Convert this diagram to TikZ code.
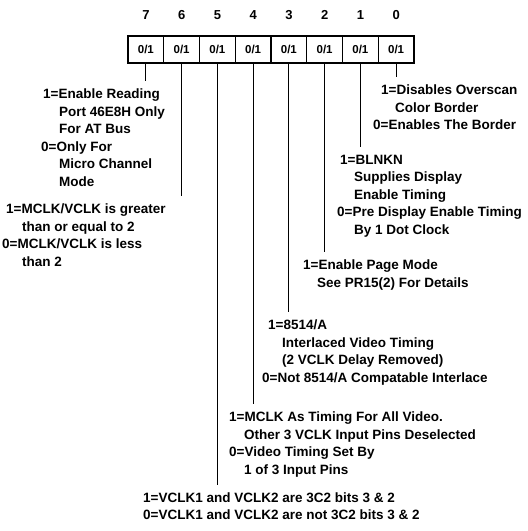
\documentclass[tikz,border=0pt]{standalone}
\usepackage{fontspec}
\setmainfont{Liberation Sans}
\usepackage{tikz}
\usetikzlibrary{
  calc,%
  positioning
}
\tikzset{>=latex}
\tikzset{bitcell/.style={draw, line width=1.2pt, minimum width=35.75pt, minimum height=27pt,
    inner sep=0pt, font=\bfseries\fontsize{11.5}{13}\selectfont}}
\tikzset{bitnum/.style={inner sep=0pt, font=\bfseries\fontsize{13}{15}\selectfont}}
\tikzset{desc/.style={align=left, anchor=north west, inner sep=0pt,
    font=\bfseries\fontsize{13.5}{17.5}\selectfont}}
\tikzset{stub/.style={line width=1pt, shorten >=8pt}}
\newcommand{\indby}[1]{\hspace*{#1pt}}

\begin{document}
\begin{tikzpicture}[x=1pt, y=-1pt]
  \useasboundingbox (0,0) rectangle (528,531);
  % register cells
  \foreach \b [count=\i from 0] in {7,...,0}{
    \node[bitcell] (c\b) at ({128+35.75*(\i+0.5)},49.5) {0/1};
    \node[bitnum, above=16pt of c\b] (n\b) {\b};
  }
  % bit descriptions
  \node[desc] (d7) at (41,89) {\indby{2}1=Enable Reading\\ \indby{18}Port 46E8H Only\\
    \indby{18}For AT Bus\\ 0=Only For\\ \indby{18}Micro Channel\\ \indby{18}Mode};
  \node[desc] (d6) at (2,204) {\indby{4}1=MCLK/VCLK is greater\\ \indby{20}than or equal to 2\\
    0=MCLK/VCLK is less\\ \indby{20}than 2};
  \node[desc] (d5) at (143,492.5) {1=VCLK1 and VCLK2 are 3C2 bits 3 \& 2\\
    0=VCLK1 and VCLK2 are not 3C2 bits 3 \& 2};
  \node[desc] (d4) at (229,412) {1=MCLK As Timing For All Video.\\
    \indby{15}Other 3 VCLK Input Pins Deselected\\ 0=Video Timing Set By\\ \indby{15}1 of 3 Input Pins};
  \node[desc] (d3) at (262,320) {\indby{6}1=8514/A\\ \indby{20}Interlaced Video Timing\\
    \indby{20}(2 VCLK Delay Removed)\\ 0=Not 8514/A Compatable Interlace};
  \node[desc] (d2) at (303,260) {1=Enable Page Mode\\ \indby{14}See PR15(2) For Details};
  \node[desc] (d1) at (337,155) {\indby{3}1=BLNKN\\ \indby{17}Supplies Display\\
    \indby{17}Enable Timing\\ 0=Pre Display Enable Timing\\ \indby{17}By 1 Dot Clock};
  \node[desc] (d0) at (373,85) {\indby{8}1=Disables Overscan\\ \indby{22}Color Border\\
    0=Enables The Border};
  % leads
  \foreach \b in {7,...,0}
    \draw[stub] (c\b.south) -- (c\b.south |- d\b.north);
\end{tikzpicture}
\end{document}
